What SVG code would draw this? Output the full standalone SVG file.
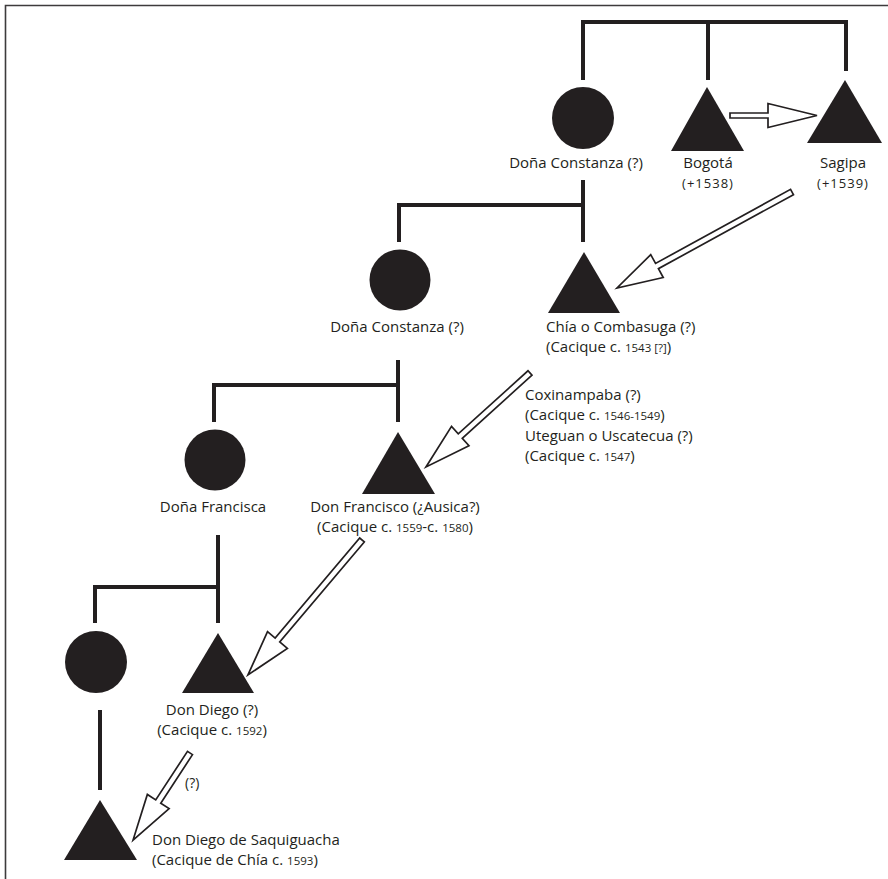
<svg xmlns="http://www.w3.org/2000/svg" width="888" height="879" viewBox="0 0 888 879">
  <style>
    .frame { stroke: #3d3b3c; stroke-width: 1.6; fill: none; }
    .line { stroke: #231f20; stroke-width: 4; fill: none; stroke-linecap: butt; }
    .fem { fill: #231f20; }
    .male { fill: #231f20; }
    .arrow { fill: #ffffff; stroke: #231f20; stroke-width: 1.7; stroke-linejoin: miter; }
    text { font-family: "Open Sans", "Noto Sans", "Liberation Sans", sans-serif; font-size: 15px; fill: #231f20; }
    .mid { text-anchor: middle; }
    .sm { font-size: 11.5px; }
    .yr { font-size: 13px; letter-spacing: 1px; }
  </style>

  <rect width="888" height="879" fill="#ffffff"/>
  <!-- frame: top and left rules -->
  <path class="frame" d="M5.5,879 V5.5 H888"/>

  <!-- kinship lines -->
  <g id="connectors">
    <path class="line" d="M583,80 V22 H846 V71 M708,22 V80"/>
    <path class="line" d="M583,180 V242 M583,205 H399 V242"/>
    <path class="line" d="M398,360 V422 M398,385 H214 V422"/>
    <path class="line" d="M218,535 V623 M218,587 H95 V623"/>
    <path class="line" d="M100,710 V790"/>

    <!-- succession arrows -->
    <path class="arrow" transform="translate(730,115.5) rotate(0)" d="M0,-2.5 H38 V-12 L87,0 L38,12 V2.5 H0 Z"/>
    <path class="arrow" transform="translate(792,192) rotate(151.25)" d="M0,-3 H154 V-13 L199.6,0 L154,13 V3 H0 Z"/>
    <path class="arrow" transform="translate(530,373) rotate(137.9)" d="M0,-3 H94 V-13 L140.2,0 L94,13 V3 H0 Z"/>
    <path class="arrow" transform="translate(362,540) rotate(130.2)" d="M0,-3 H131 V-13 L176.7,0 L131,13 V3 H0 Z"/>
    <path class="arrow" transform="translate(190,753) rotate(123.2)" d="M0,-3 H58 V-13 L104,0 L58,13 V3 H0 Z"/>
  </g>

  <g id="dona-constanza-1">
    <circle class="fem" cx="583" cy="118" r="31"/>
    <text class="mid" x="576" y="168">Doña Constanza (?)</text>
  </g>

  <g id="bogota">
    <polygon class="male" points="707,87 744,151 671,151"/>
    <text class="mid" x="708" y="168">Bogotá</text>
    <text class="mid yr" x="708" y="188">(+1538)</text>
  </g>

  <g id="sagipa">
    <polygon class="male" points="845,80 882,143 807,143"/>
    <text class="mid" x="843" y="168">Sagipa</text>
    <text class="mid yr" x="843" y="188">(+1539)</text>
  </g>

  <g id="dona-constanza-2">
    <circle class="fem" cx="400" cy="280" r="30.5"/>
    <text class="mid" x="397" y="332">Doña Constanza (?)</text>
  </g>

  <g id="chia">
    <polygon class="male" points="584,252 620,313 548,313"/>
    <text x="546" y="332">Chía o Combasuga (?)</text>
    <text x="546" y="352">(Cacique c. <tspan class="sm">1543 [?]</tspan>)</text>
  </g>

  <g id="coxinampaba">
    <text x="525" y="400">Coxinampaba (?)</text>
    <text x="525" y="420">(Cacique c. <tspan class="sm">1546-1549</tspan>)</text>
    <text x="525" y="441">Uteguan o Uscatecua (?)</text>
    <text x="525" y="461">(Cacique c. <tspan class="sm">1547</tspan>)</text>
  </g>

  <g id="dona-francisca">
    <circle class="fem" cx="215" cy="460" r="30.5"/>
    <text class="mid" x="213" y="512">Doña Francisca</text>
  </g>

  <g id="don-francisco">
    <polygon class="male" points="398,432 435,494 362,494"/>
    <text class="mid" x="395" y="512">Don Francisco (¿Ausica?)</text>
    <text class="mid" x="395" y="532">(Cacique c. <tspan class="sm">1559</tspan>-c. <tspan class="sm">1580</tspan>)</text>
  </g>

  <g id="wife-don-diego">
    <circle class="fem" cx="96" cy="662" r="31"/>
  </g>

  <g id="don-diego">
    <polygon class="male" points="218,633 254,693 182,693"/>
    <text class="mid" x="212" y="715">Don Diego (?)</text>
    <text class="mid" x="212" y="735">(Cacique c. <tspan class="sm">1592</tspan>)</text>
  </g>

  <g id="uncertain-label">
    <text x="185" y="788" style="font-size:14px">(?)</text>
  </g>

  <g id="don-diego-saquiguacha">
    <polygon class="male" points="100,800 137,860 64,860"/>
    <text x="152" y="845">Don Diego de Saquiguacha</text>
    <text x="152" y="865">(Cacique de Chía c. <tspan class="sm">1593</tspan>)</text>
  </g>
</svg>
